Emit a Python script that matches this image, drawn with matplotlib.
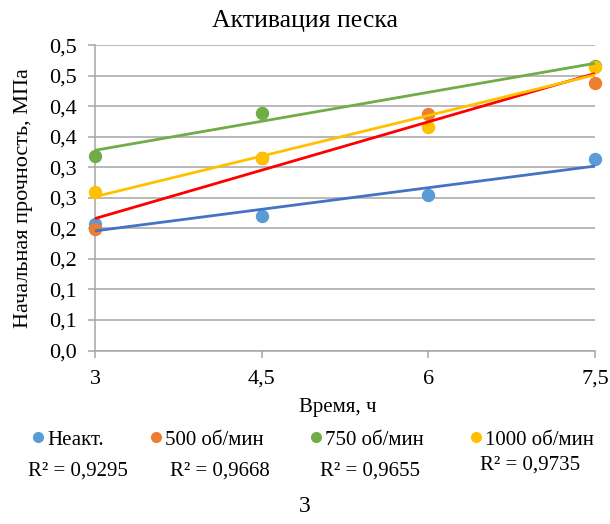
import numpy as np
import matplotlib
matplotlib.use("Agg")
import matplotlib.pyplot as plt
from matplotlib.lines import Line2D

SERIF = ['Liberation Serif', 'DejaVu Serif']
plt.rcParams['font.family'] = SERIF

# --- data -------------------------------------------------------------
hours = [3.0, 4.5, 6.0, 7.5]
series_names = ["Неакт.", "500 об/мин", "750 об/мин", "1000 об/мин"]
neakt = [0.207, 0.221, 0.254, 0.314]
rpm500 = [0.199, 0.315, 0.387, 0.439]
rpm750 = [0.319, 0.389, np.nan, 0.466]
rpm1000 = [0.260, 0.316, 0.366, 0.465]
r2_labels = ["R² = 0,9295", "R² = 0,9668", "R² = 0,9655", "R² = 0,9735"]

y_ticks = [0.0, 0.05, 0.10, 0.15, 0.20, 0.25, 0.30, 0.35, 0.40, 0.45, 0.50]
y_tick_labels = ["0,0", "0,1", "0,1", "0,2", "0,2", "0,3", "0,3", "0,4", "0,4", "0,5", "0,5"]
x_ticks = [3.0, 4.5, 6.0, 7.5]
x_tick_labels = ["3", "4,5", "6", "7,5"]

marker_colors = ["#5B9BD5", "#ED7D31", "#70AD47", "#FFC000"]
trend_colors = ["#4472C4", "#FF0000", "#70AD47", "#FFC000"]
grid_color = "#A6A6A6"

# --- figure -----------------------------------------------------------
fig = plt.figure(figsize=(6.10, 5.24), dpi=100)
ax = fig.add_axes([95 / 610, 1 - 350.5 / 524, 500 / 610, 305.2 / 524])

x = np.array(hours)
all_series = [neakt, rpm500, rpm750, rpm1000]

for vals, mc in zip(all_series, marker_colors):
    ax.plot(x, vals, linestyle="none", marker="o", markersize=8.6,
            markerfacecolor=mc, markeredgecolor=mc, clip_on=False, zorder=3)

# linear trend lines
for vals, tc in zip(all_series, trend_colors):
    y = np.array(vals, dtype=float)
    ok = ~np.isnan(y)
    k, b = np.polyfit(x[ok], y[ok], 1)
    xs = np.array([x.min(), x.max()])
    ax.plot(xs, k * xs + b, color=tc, linewidth=2.0, solid_capstyle="butt",
            clip_on=False, zorder=4)

ax.set_xlim(3.0, 7.5)
ax.set_ylim(0.0, 0.5)
ax.set_xticks(x_ticks)
ax.set_xticklabels(x_tick_labels, family=SERIF, fontsize=16)
ax.set_yticks(y_ticks)
ax.set_yticklabels(y_tick_labels, family=SERIF, fontsize=16)

ax.grid(axis="y", color=grid_color, linewidth=1.1)
ax.set_axisbelow(True)
for side in ["top", "right"]:
    ax.spines[side].set_visible(False)
for side in ["left", "bottom"]:
    ax.spines[side].set_color(grid_color)
    ax.spines[side].set_linewidth(1.1)
ax.tick_params(axis="both", direction="out", length=5, width=1.1,
               color=grid_color)
ax.tick_params(axis="y", pad=8)
ax.tick_params(axis="x", pad=9)

ax.set_xlabel("Время, ч", fontsize=15, labelpad=8, family=SERIF)
ax.xaxis.set_label_coords(0.486, -0.155)
ax.set_ylabel("Начальная прочность, МПа", fontsize=16, labelpad=12, family=SERIF)

fig.text(305 / 610, 1 - 21 / 524, "Активация песка", ha="center", va="center",
         fontsize=18.5, family=SERIF)

# legend below the axes
handles = [Line2D([0], [0], linestyle="none", marker="o", markersize=7,
                  markerfacecolor=c, markeredgecolor=c) for c in marker_colors]
fig.legend(handles, series_names, loc="center", bbox_to_anchor=(0.513, 1 - 440 / 524),
           ncol=4, frameon=False, prop={"family": SERIF, "size": 15},
           handlelength=0.6, handletextpad=0.15, columnspacing=2.2)

# trend line labels
r2_pos = [(78, 471), (220, 471), (370, 471), (530, 465)]
for (px, py), lab in zip(r2_pos, r2_labels):
    fig.text(px / 610, 1 - py / 524, lab, ha="center", va="center",
             fontsize=15, family=SERIF)

fig.text(305 / 610, 1 - 507 / 524, "3", ha="center", va="center",
         fontsize=17, family=SERIF)

fig.savefig("out.png", dpi=100)
